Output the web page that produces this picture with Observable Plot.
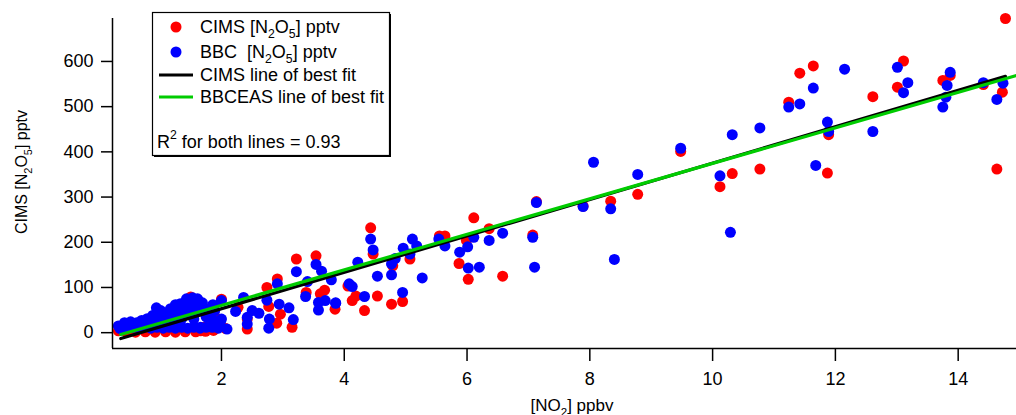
<!DOCTYPE html>
<html><head><meta charset="utf-8">
<script src="https://cdn.jsdelivr.net/npm/d3@7"></script>
<script src="https://cdn.jsdelivr.net/npm/@observablehq/plot@0.6"></script>
<style>
body{margin:0;background:#fff;}
#wrap{position:relative;width:1016px;height:415px;}
</style></head><body><div id="wrap"></div>
<script>
// CIMS (red) [NO2] ppbv and [N2O5] pptv
const cimsNO2 = [14.77,11.64,11.42,11.24,13.11,13.01,12.61,13.75,13.87,14.41,14.72,14.63,11.89,11.87,10.77,10.32,10.12,9.48,
  8.34,8.78,7.13,7.89,7.07,6.58,6.36,6.11,6.02,5.87,5.99,5.55,5.64,5.07,4.79,4.43,4.47,4.54,4.77,4.95,4.33,4.13,4.19,4.06,3.85,
  3.22,3.54,2.91,2.74,3.38,3.68,3.61,2.96,2.90,2.77,3.15,2.42,2.42,2.00,1.77,1.66,2.27,
  0.32,0.45,0.60,0.76,0.92,1.09,1.25,1.41,1.58,1.74,1.87,2.07,1.50,1.43,1.35,1.20,1.05,0.90,0.70,0.50,1.62,1.30,1.00,0.80,0.40,1.95,1.72,1.80];
const cimsN2O5 = [695,590,574,510,601,543,522,558,569,549,532,362,438,353,362,352,323,401,
  291,306,290,280,216,125,230,254,118,153,204,214,214,163,148,232,174,81,63,69,49,71,81,103,52,
  163,170,119,100,89,94,86,41,21,58,12,8,30,74,15,4,56,
  4,2,1,2,1,2,1,2,2,3,5,9,79,70,60,45,40,30,20,15,50,25,15,8,10,30,12,15];
// BBCEAS (blue)
const bbcNO2 = [12.15,11.64,11.42,11.24,13.01,13.18,13.11,13.87,13.82,13.80,13.75,14.41,14.73,14.63,11.87,11.89,11.68,12.61,10.77,10.32,10.12,10.29,9.48,
  8.06,8.78,7.89,8.34,8.40,7.13,7.07,7.10,6.58,6.36,6.11,6.01,5.88,6.02,6.20,5.64,5.54,5.11,5.18,4.96,5.07,4.83,4.77,4.77,5.27,4.54,4.43,4.47,4.22,4.95,4.33,4.08,4.13,3.86,3.79,
  3.22,3.54,3.63,3.40,3.37,2.91,2.74,2.94,3.10,3.17,2.78,2.77,2.61,2.50,2.42,2.42,2.36,2.23,2.00,1.86,2.00,2.09,1.66,1.66,3.58,3.58,3.69,3.86,
  0.32,0.42,0.52,0.62,0.70,0.79,0.88,0.94,1.01,1.10,1.17,1.25,1.33,1.43,1.53,1.61,1.69,1.79,1.89,1.98,
  0.35,0.45,0.55,0.65,0.75,0.85,0.85,0.95,0.95,1.05,1.05,1.15,1.15,1.25,1.25,1.25,1.35,1.35,1.35,1.45,1.45,1.45,1.55,1.55,1.55,1.65,1.65,1.75,1.75,1.85,1.85,1.95];
const bbcN2O5 = [583,541,506,499,587,553,531,576,547,521,499,553,552,516,466,445,370,445,453,438,347,222,408,
  377,350,279,274,162,288,211,145,220,204,211,190,178,143,145,192,207,207,192,187,174,164,152,128,121,125,207,183,156,89,80,108,102,66,117,
  135,151,136,113,80,108,72,63,55,29,30,10,43,49,34,19,78,47,71,62,30,8,67,12,67,50,71,65,
  15,22,24,22,27,31,38,55,49,44,53,62,64,75,77,75,66,53,49,23,
  9,10,12,10,14,10,25,12,35,10,30,12,32,10,28,45,12,30,48,10,40,58,12,30,55,10,48,12,35,12,30,10];
// lines of best fit (end points)
const fitNO2 = [0.36, 14.77];
const cimsFitN2O5 = [-13, 567];
const bbcFitNO2 = [0.36, 14.95];
const bbcFitN2O5 = [-4, 569];
const xTicks = [2,4,6,8,10,12,14];
const yTicks = [0,100,200,300,400,500,600];
const xDomain = [0.225, 14.95];
const yDomain = [-35, 695];

const cims = cimsNO2.map((x,i)=>({x, y:cimsN2O5[i]}));
const bbc = bbcNO2.map((x,i)=>({x, y:bbcN2O5[i]}));
const cimsFit = fitNO2.map((x,i)=>({x, y:cimsFitN2O5[i]}));
const bbcFit = bbcFitNO2.map((x,i)=>({x, y:bbcFitN2O5[i]}));

const FONT = '"Liberation Sans", Arial, sans-serif';
const svg = Plot.plot({
  width: 1016, height: 415,
  marginLeft: 112, marginRight: 0, marginTop: 18, marginBottom: 67,
  style: `font-family: ${FONT}; font-size: 18px; color: #000; background: #fff; overflow: visible;`,
  x: {domain: xDomain},
  y: {domain: yDomain},
  marks: [
    Plot.dot(cims, {x:"x", y:"y", r:5.5, fill:"#ff0000"}),
    Plot.dot(bbc, {x:"x", y:"y", r:5.5, fill:"#0000ff"}),
    Plot.line(cimsFit, {x:"x", y:"y", stroke:"#000", strokeWidth:3.2, clip:true}),
    Plot.line(bbcFit, {x:"x", y:"y", stroke:"#00cc00", strokeWidth:3.2, clip:true}),
    Plot.ruleX([xDomain[0]], {stroke:"#000", strokeWidth:1.5}),
    Plot.ruleY([yDomain[0]], {stroke:"#000", strokeWidth:1.5}),
    Plot.axisY({ticks: yTicks, tickSize: 11, tickPadding: 8, label: null, strokeWidth: 1.5, fontSize: 18}),
    Plot.axisX({ticks: xTicks, tickSize: 13, tickPadding: 11, label: null, strokeWidth: 1.5, fontSize: 18})
  ]
});
document.getElementById("wrap").appendChild(svg);

const s = d3.select(svg);
const g = s.append("g").attr("font-family", FONT).attr("font-size", 18).attr("fill", "#000").attr("text-anchor", "start");
function sub(t, parts){
  parts.forEach(([txt, kind])=>{
    const ts = t.append("tspan").text(txt);
    if (kind==="sub") ts.attr("font-size", "0.68em").attr("dy", 5);
    else if (kind==="sup") ts.attr("font-size", "0.68em").attr("dy", -9);
    else if (kind==="back") ts.attr("dy", -5);
    else if (kind==="down") ts.attr("dy", 9);
  });
}
// axis titles
sub(g.append("text").attr("transform","translate(27,172) rotate(-90)").attr("text-anchor","middle").attr("font-size",16),
  [["CIMS [N"],["2","sub"],["O","back"],["5","sub"],["] pptv","back"]]);
sub(g.append("text").attr("x",572).attr("y",411).attr("text-anchor","middle").attr("font-size",17),
  [["[NO"],["2","sub"],["] ppbv","back"]]);
// legend box
g.append("rect").attr("x",154).attr("y",14).attr("width",237).attr("height",143).attr("fill","#000");
g.append("rect").attr("x",152.5).attr("y",12.5).attr("width",237).attr("height",143).attr("fill","#fff").attr("stroke","#000").attr("stroke-width",1.2);
g.append("circle").attr("cx",176).attr("cy",27).attr("r",5.5).attr("fill","#ff0000");
g.append("circle").attr("cx",176).attr("cy",52).attr("r",5.5).attr("fill","#0000ff");
g.append("line").attr("x1",159).attr("x2",193).attr("y1",75).attr("y2",75).attr("stroke","#000").attr("stroke-width",3);
g.append("line").attr("x1",159).attr("x2",193).attr("y1",97).attr("y2",97).attr("stroke","#00cc00").attr("stroke-width",3);
sub(g.append("text").attr("x",200).attr("y",33), [["CIMS [N"],["2","sub"],["O","back"],["5","sub"],["] pptv","back"]]);
sub(g.append("text").attr("x",200).attr("y",58), [["BBC\u00a0 [N"],["2","sub"],["O","back"],["5","sub"],["] pptv","back"]]);
g.append("text").attr("x",200).attr("y",81).text("CIMS line of best fit");
g.append("text").attr("x",200).attr("y",103).text("BBCEAS line of best fit");
sub(g.append("text").attr("x",157).attr("y",148), [["R"],["2","sup"],[" for both lines = 0.93","down"]]);
</script>
</body></html>
